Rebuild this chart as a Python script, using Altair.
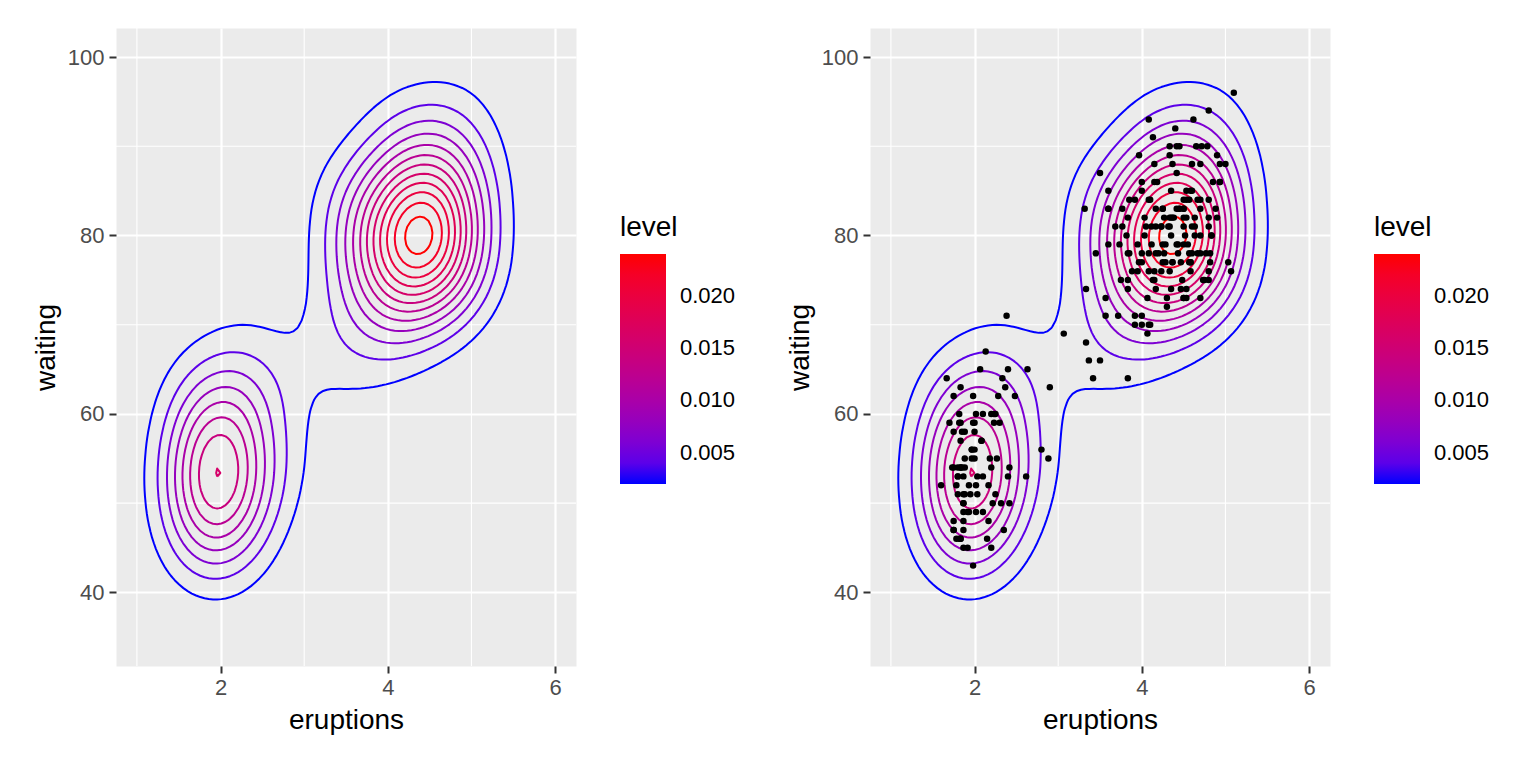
import numpy as np
import pandas as pd
import altair as alt
from collections import defaultdict

# Old Faithful geyser data (faithful)
eruptions = [
    3.600, 1.800, 3.333, 2.283, 4.533, 2.883, 4.700, 3.600, 1.950, 4.350,
    1.833, 3.917, 4.200, 1.750, 4.700, 2.167, 1.750, 4.800, 1.600, 4.250,
    1.800, 1.750, 3.450, 3.067, 4.533, 3.600, 1.967, 4.083, 3.850, 4.433,
    4.300, 4.467, 3.367, 4.033, 3.833, 2.017, 1.867, 4.833, 1.833, 4.783,
    4.350, 1.883, 4.567, 1.750, 4.533, 3.317, 3.833, 2.100, 4.633, 2.000,
    4.800, 4.716, 1.833, 4.833, 1.733, 4.883, 3.717, 1.667, 4.567, 4.317,
    2.233, 4.500, 1.750, 4.800, 1.817, 4.400, 4.167, 4.700, 2.067, 4.700,
    4.033, 1.967, 4.500, 4.000, 1.983, 5.067, 2.017, 4.567, 3.883, 3.600,
    4.133, 4.333, 4.100, 2.633, 4.067, 4.933, 3.950, 4.517, 2.167, 4.000,
    2.200, 4.333, 1.867, 4.817, 1.833, 4.300, 4.667, 3.750, 1.867, 4.900,
    2.483, 4.367, 2.100, 4.500, 4.050, 1.867, 4.700, 1.783, 4.850, 3.683,
    4.733, 2.300, 4.900, 4.417, 1.700, 4.633, 2.317, 4.600, 1.817, 4.417,
    2.617, 4.067, 4.250, 1.967, 4.600, 3.767, 1.917, 4.500, 2.267, 4.650,
    1.867, 4.167, 2.800, 4.333, 1.833, 4.383, 1.883, 4.933, 2.033, 3.733,
    4.233, 2.233, 4.533, 4.817, 4.333, 1.983, 4.633, 2.017, 5.100, 1.800,
    5.033, 4.000, 2.400, 4.600, 3.567, 4.000, 4.500, 4.083, 1.800, 3.967,
    2.200, 4.150, 2.000, 3.833, 3.500, 4.583, 2.367, 5.000, 1.933, 4.617,
    1.917, 2.083, 4.583, 3.333, 4.167, 4.333, 4.500, 2.417, 4.000, 4.167,
    1.883, 4.583, 4.250, 3.767, 2.033, 4.433, 4.083, 1.833, 4.417, 2.183,
    4.800, 1.833, 4.800, 4.100, 3.966, 4.233, 3.500, 4.366, 2.250, 4.667,
    2.100, 4.350, 4.133, 1.867, 4.600, 1.783, 4.367, 3.850, 1.933, 4.500,
    2.383, 4.700, 1.867, 3.833, 3.417, 4.233, 2.400, 4.800, 2.000, 4.150,
    1.867, 4.267, 1.750, 4.483, 4.000, 4.117, 4.083, 4.267, 3.917, 4.550,
    4.083, 2.417, 4.183, 2.217, 4.450, 1.883, 1.850, 4.283, 3.950, 2.333,
    4.150, 2.350, 4.933, 2.900, 4.583, 3.833, 2.083, 4.367, 2.133, 4.350,
    2.200, 4.450, 3.567, 4.500, 4.150, 3.817, 3.917, 4.450, 2.000, 4.283,
    4.767, 4.533, 1.850, 4.250, 1.983, 2.250, 4.750, 4.117, 2.150, 4.417,
    1.817, 4.467,
]
waiting = [
    79, 54, 74, 62, 85, 55, 88, 85, 51, 85,
    54, 84, 78, 47, 83, 52, 62, 84, 52, 79,
    51, 47, 78, 69, 74, 83, 55, 76, 78, 79,
    73, 77, 66, 80, 74, 52, 48, 80, 59, 90,
    80, 58, 84, 58, 73, 83, 64, 53, 82, 59,
    75, 90, 54, 80, 54, 83, 71, 64, 77, 81,
    59, 84, 48, 82, 60, 92, 78, 78, 65, 73,
    82, 56, 79, 71, 62, 76, 60, 78, 76, 83,
    75, 82, 70, 65, 73, 88, 76, 80, 48, 86,
    60, 90, 50, 78, 63, 72, 84, 75, 51, 82,
    62, 88, 49, 83, 81, 47, 84, 52, 86, 81,
    75, 59, 89, 79, 59, 81, 50, 85, 59, 87,
    53, 69, 77, 56, 88, 81, 45, 82, 55, 90,
    45, 83, 56, 89, 46, 82, 51, 86, 53, 79,
    81, 60, 82, 77, 76, 59, 80, 49, 96, 53,
    77, 77, 65, 81, 71, 70, 81, 93, 53, 89,
    45, 86, 58, 78, 66, 76, 63, 88, 52, 93,
    49, 57, 77, 68, 81, 81, 73, 50, 85, 74,
    55, 77, 83, 83, 51, 78, 84, 46, 83, 55,
    81, 57, 76, 84, 77, 81, 87, 77, 51, 78,
    60, 82, 91, 53, 78, 46, 77, 84, 49, 83,
    71, 80, 49, 75, 64, 76, 53, 94, 55, 76,
    50, 82, 54, 75, 78, 79, 78, 78, 70, 79,
    70, 54, 86, 50, 90, 54, 54, 77, 79, 64,
    75, 47, 86, 63, 85, 82, 57, 82, 67, 74,
    54, 83, 73, 73, 88, 80, 71, 83, 56, 79,
    78, 84, 58, 83, 43, 60, 75, 81, 46, 90,
    46, 74,
]

x_ticks = [2, 4, 6]
y_ticks = [40, 60, 80, 100]
x_minor = [1, 3, 5]
y_minor = [50, 70, 90]
legend_ticks = [0.005, 0.010, 0.015, 0.020]
x_limits = [1, 6]
y_limits = [35, 100]

# ---- 2D kernel density estimate (as MASS::kde2d with bandwidth.nrd) ----
xv = np.array(eruptions, dtype=float)
yv = np.array(waiting, dtype=float)
n = len(xv)


def bw_nrd(v):
    q1, q3 = np.percentile(v, [25, 75])
    return 4 * 1.06 * min(np.std(v, ddof=1), (q3 - q1) / 1.34) * len(v) ** (-0.2)


hx, hy = bw_nrd(xv) / 4, bw_nrd(yv) / 4
gx = np.linspace(x_limits[0], x_limits[1], 100)
gy = np.linspace(y_limits[0], y_limits[1], 100)


def phi(u):
    return np.exp(-0.5 * u * u) / np.sqrt(2 * np.pi)


ax = phi((gx[:, None] - xv[None, :]) / hx)
ay = phi((gy[:, None] - yv[None, :]) / hy)
z = ax @ ay.T / (n * hx * hy)


def pretty_unit(lo, hi, ndiv=10):
    cell = (hi - lo) / ndiv
    U = 10 ** np.floor(np.log10(cell))
    unit = U
    if 2 * U - cell < 1.5 * (cell - unit):
        unit = 2 * U
        if 5 * U - cell < 2.75 * (cell - unit):
            unit = 5 * U
            if 10 * U - cell < 1.5 * (cell - unit):
                unit = 10 * U
    return unit


zmin, zmax = z.min(), z.max()
unit = pretty_unit(zmin, zmax)
levels = [round(k * unit, 6) for k in range(int(np.ceil(zmin / unit)), int(np.floor(zmax / unit)) + 1)]
levels = [L for L in levels if zmin < L < zmax]


def isolines(L):
    above = z > L
    nx, ny = z.shape
    segs = []
    for i in range(nx - 1):
        for j in range(ny - 1):
            a00, a10, a11, a01 = above[i, j], above[i + 1, j], above[i + 1, j + 1], above[i, j + 1]
            if a00 == a10 == a11 == a01:
                continue
            B, R, T, Lf = ("h", i, j), ("v", i + 1, j), ("h", i, j + 1), ("v", i, j)
            crossed = []
            if a00 != a10:
                crossed.append(B)
            if a10 != a11:
                crossed.append(R)
            if a11 != a01:
                crossed.append(T)
            if a01 != a00:
                crossed.append(Lf)
            if len(crossed) == 2:
                segs.append(tuple(crossed))
            else:
                c = (z[i, j] + z[i + 1, j] + z[i + 1, j + 1] + z[i, j + 1]) / 4 > L
                if a00 == c:
                    segs += [(B, R), (T, Lf)]
                else:
                    segs += [(B, Lf), (R, T)]

    def pt(e):
        kind, i, j = e
        if kind == "h":
            z0, z1 = z[i, j], z[i + 1, j]
            t = (L - z0) / (z1 - z0)
            return gx[i] + t * (gx[i + 1] - gx[i]), gy[j]
        z0, z1 = z[i, j], z[i, j + 1]
        t = (L - z0) / (z1 - z0)
        return gx[i], gy[j] + t * (gy[j + 1] - gy[j])

    adj = defaultdict(list)
    for k, (e1, e2) in enumerate(segs):
        adj[e1].append(k)
        adj[e2].append(k)
    used = [False] * len(segs)

    def walk(start, k):
        path = [start]
        cur = start
        while k is not None and not used[k]:
            used[k] = True
            e1, e2 = segs[k]
            nxt = e2 if e1 == cur else e1
            path.append(nxt)
            cur = nxt
            k = next((kk for kk in adj[cur] if not used[kk]), None)
        return path

    paths = []
    for e, lst in list(adj.items()):
        if len(lst) == 1 and not used[lst[0]]:
            paths.append(walk(e, lst[0]))
    for k in range(len(segs)):
        if not used[k]:
            paths.append(walk(segs[k][0], k))
    return [[pt(e) for e in p] for p in paths]


rows = []
for L in levels:
    for p_i, path in enumerate(isolines(L)):
        for o, (px, py) in enumerate(path):
            rows.append({"level": L, "piece": f"{L}_{p_i}", "ord": o, "eruptions": px, "waiting": py})
contours = pd.DataFrame(rows)
lmin, lmax = min(contours["level"]), max(contours["level"])

points = pd.DataFrame({"eruptions": eruptions, "waiting": waiting})
minor_x_df = pd.DataFrame({"mx": x_minor})
minor_y_df = pd.DataFrame({"my": y_minor})

FONT = "Liberation Sans"
xs = alt.Scale(domain=[0.75, 6.25], nice=False, zero=False)
ys = alt.Scale(domain=[31.75, 103.25], nice=False, zero=False)
xa = alt.Axis(values=x_ticks, grid=True)
ya = alt.Axis(values=y_ticks, grid=True)


def panel(with_points):
    mx = alt.Chart(minor_x_df).mark_rule(color="white", strokeWidth=1.1).encode(
        x=alt.X("mx:Q", scale=xs, axis=xa, title="eruptions"))
    my = alt.Chart(minor_y_df).mark_rule(color="white", strokeWidth=1.1).encode(
        y=alt.Y("my:Q", scale=ys, axis=ya, title="waiting"))
    lines = alt.Chart(contours).mark_line(strokeWidth=2, strokeJoin="round").encode(
        x=alt.X("eruptions:Q", scale=xs, axis=xa, title="eruptions"),
        y=alt.Y("waiting:Q", scale=ys, axis=ya, title="waiting"),
        color=alt.Color(
            "level:Q",
            scale=alt.Scale(domain=[lmin, lmax], range=["blue", "red"], interpolate="lab"),
            legend=alt.Legend(
                orient="none", legendX=504, legendY=186, direction="vertical",
                values=legend_ticks, format=".3f", gradientLength=230, gradientThickness=46,
                gradientStrokeWidth=0, titleFontSize=28, titleFontWeight="normal",
                titleColor="black", titleFont=FONT, titlePadding=12, labelFontSize=22,
                labelColor="black", labelFont=FONT, labelOffset=14, padding=0,
            ),
            title="level",
        ),
        detail="piece:N",
        order="ord:Q",
    )
    layers = [mx, my, lines]
    if with_points:
        dots = alt.Chart(points).mark_circle(size=42, color="black", opacity=1).encode(
            x=alt.X("eruptions:Q", scale=xs, axis=xa, title="eruptions"),
            y=alt.Y("waiting:Q", scale=ys, axis=ya, title="waiting"),
        )
        layers.append(dots)
    return alt.layer(*layers).properties(width=460, height=638)


chart = (
    alt.hconcat(panel(False), panel(True), spacing=48)
    .resolve_scale(color="independent")
    .resolve_legend(color="independent")
    .properties(padding={"left": 23, "top": 18, "right": 5, "bottom": 5})
    .configure_view(fill="#EBEBEB", stroke="transparent")
    .configure_axis(
        domain=False, gridColor="white", gridWidth=2.2, tickColor="#333333", tickWidth=2,
        tickSize=7, labelFontSize=22, labelColor="#4D4D4D", labelFont=FONT,
        titleFontSize=28, titleFontWeight="normal", titleColor="black", titleFont=FONT,
        labelFlush=False,
    )
    .configure_axisX(labelPadding=4, titlePadding=8)
    .configure_axisY(labelPadding=5, titlePadding=7)
)

chart.save("out.html", embed_options={"renderer": "svg", "actions": False})
